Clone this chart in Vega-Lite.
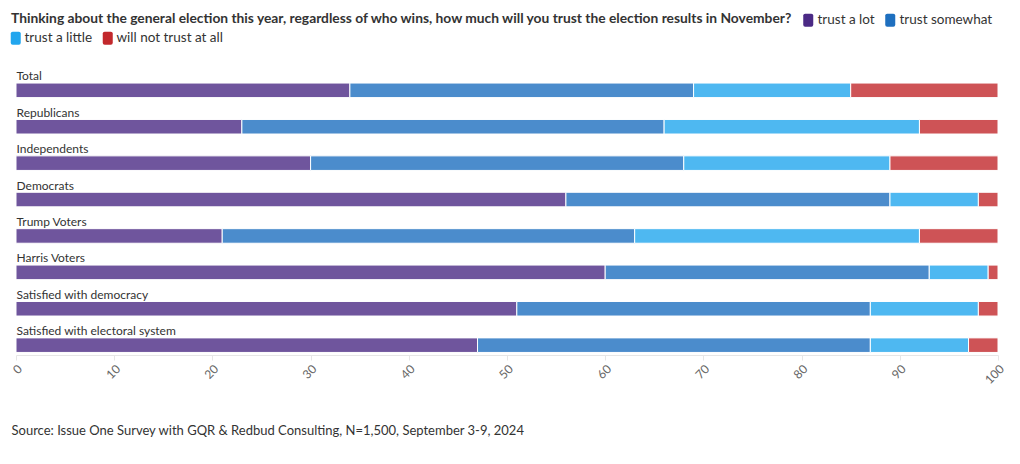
{
  "$schema": "https://vega.github.io/schema/vega-lite/v6.json",
  "width": 982,
  "height": 274.5,
  "autosize": {"type": "none"},
  "padding": {"left": 16, "top": 80.5, "right": 22, "bottom": 109},
  "background": "white",
  "config": {"font": "Lato", "view": {"stroke": null}},
  "title": {
    "text": "Thinking about the general election this year, regardless of who wins, how much will you trust the election results in November?",
    "anchor": "start",
    "frame": "group",
    "dx": -5,
    "dy": 24,
    "fontSize": 13.8,
    "fontWeight": "bold",
    "color": "#333333",
    "font": "Lato",
    "baseline": "alphabetic",
    "offset": 0
  },
  "data": {
    "values": [
      {"group": "Total", "response": "trust a lot", "k": 1, "value": 34},
      {"group": "Total", "response": "trust somewhat", "k": 2, "value": 35},
      {"group": "Total", "response": "trust a little", "k": 3, "value": 16},
      {"group": "Total", "response": "will not trust at all", "k": 4, "value": 15},
      {"group": "Republicans", "response": "trust a lot", "k": 1, "value": 23},
      {"group": "Republicans", "response": "trust somewhat", "k": 2, "value": 43},
      {"group": "Republicans", "response": "trust a little", "k": 3, "value": 26},
      {"group": "Republicans", "response": "will not trust at all", "k": 4, "value": 8},
      {"group": "Independents", "response": "trust a lot", "k": 1, "value": 30},
      {"group": "Independents", "response": "trust somewhat", "k": 2, "value": 38},
      {"group": "Independents", "response": "trust a little", "k": 3, "value": 21},
      {"group": "Independents", "response": "will not trust at all", "k": 4, "value": 11},
      {"group": "Democrats", "response": "trust a lot", "k": 1, "value": 56},
      {"group": "Democrats", "response": "trust somewhat", "k": 2, "value": 33},
      {"group": "Democrats", "response": "trust a little", "k": 3, "value": 9},
      {"group": "Democrats", "response": "will not trust at all", "k": 4, "value": 2},
      {"group": "Trump Voters", "response": "trust a lot", "k": 1, "value": 21},
      {"group": "Trump Voters", "response": "trust somewhat", "k": 2, "value": 42},
      {"group": "Trump Voters", "response": "trust a little", "k": 3, "value": 29},
      {"group": "Trump Voters", "response": "will not trust at all", "k": 4, "value": 8},
      {"group": "Harris Voters", "response": "trust a lot", "k": 1, "value": 60},
      {"group": "Harris Voters", "response": "trust somewhat", "k": 2, "value": 33},
      {"group": "Harris Voters", "response": "trust a little", "k": 3, "value": 6},
      {"group": "Harris Voters", "response": "will not trust at all", "k": 4, "value": 1},
      {"group": "Satisfied with democracy", "response": "trust a lot", "k": 1, "value": 51},
      {"group": "Satisfied with democracy", "response": "trust somewhat", "k": 2, "value": 36},
      {"group": "Satisfied with democracy", "response": "trust a little", "k": 3, "value": 11},
      {"group": "Satisfied with democracy", "response": "will not trust at all", "k": 4, "value": 2},
      {"group": "Satisfied with electoral system", "response": "trust a lot", "k": 1, "value": 47},
      {"group": "Satisfied with electoral system", "response": "trust somewhat", "k": 2, "value": 40},
      {"group": "Satisfied with electoral system", "response": "trust a little", "k": 3, "value": 10},
      {"group": "Satisfied with electoral system", "response": "will not trust at all", "k": 4, "value": 3}
    ]
  },
  "encoding": {
    "y": {
      "field": "group",
      "type": "nominal",
      "sort": null,
      "scale": {"paddingInner": 0.6, "paddingOuter": 0.07},
      "axis": {
        "title": null,
        "domain": false,
        "ticks": false,
        "tickSize": 0,
        "grid": false,
        "labelAlign": "left",
        "labelBaseline": "alphabetic",
        "labelPadding": 0,
        "labelOffset": -10,
        "labelFontSize": 12,
        "labelColor": "#333333",
        "labelFont": "Lato"
      }
    }
  },
  "layer": [
    {
      "mark": {"type": "bar", "fillOpacity": 0.8, "stroke": "white", "strokeWidth": 1},
      "encoding": {
        "x": {
          "field": "value",
          "type": "quantitative",
          "stack": "zero",
          "scale": {"domain": [0, 100], "nice": false},
          "axis": {
            "values": [0, 10, 20, 30, 40, 50, 60, 70, 80, 90, 100],
            "grid": false,
            "labelAngle": -45,
            "labelFontSize": 12,
            "labelColor": "#666666",
            "labelFont": "Lato",
            "labelPadding": 3,
            "domainColor": "#e6e6e6",
            "tickColor": "#e6e6e6",
            "tickSize": 5,
            "title": "Source: Issue One Survey with GQR & Redbud Consulting, N=1,500, September 3-9, 2024",
            "titleAnchor": "start",
            "titleAlign": "left",
            "titleBaseline": "alphabetic",
            "titleX": -5,
            "titleY": 79,
            "titleFontSize": 13,
            "titleFontWeight": "normal",
            "titleColor": "#333333",
            "titleFont": "Lato"
          }
        },
        "color": {
          "field": "response",
          "type": "nominal",
          "scale": {
            "domain": ["trust a lot", "trust somewhat", "trust a little", "will not trust at all"],
            "range": ["#4b2a85", "#1e6fbf", "#22a6ee", "#c2282c"]
          },
          "legend": {
            "orient": "none",
            "legendX": 785.5,
            "legendY": -67.5,
            "direction": "horizontal",
            "title": null,
            "values": ["trust a lot", "trust somewhat"],
            "symbolType": "M-0.47,-1H0.47Q0.77,-1 0.77,-0.7V0.7Q0.77,1 0.47,1H-0.47Q-0.77,1 -0.77,0.7V-0.7Q-0.77,-1 -0.47,-1Z",
            "symbolSize": 169,
            "symbolStrokeWidth": 0,
            "symbolOpacity": 1,
            "labelFontSize": 13.5,
            "labelColor": "#333333",
            "labelFont": "Lato",
            "labelOffset": 2.5,
            "columnPadding": 8,
            "padding": 0
          }
        },
        "order": {"field": "k", "type": "quantitative"}
      }
    },
    {
      "mark": {"type": "point", "filled": true, "size": 0},
      "encoding": {
        "x": {"field": "value", "type": "quantitative"},
        "fill": {
          "field": "response",
          "type": "nominal",
          "scale": {
            "domain": ["trust a little", "will not trust at all"],
            "range": ["#22a6ee", "#c2282c"]
          },
          "legend": {
            "orient": "none",
            "legendX": -7,
            "legendY": -49.5,
            "direction": "horizontal",
            "title": null,
            "symbolType": "M-0.47,-1H0.47Q0.77,-1 0.77,-0.7V0.7Q0.77,1 0.47,1H-0.47Q-0.77,1 -0.77,0.7V-0.7Q-0.77,-1 -0.47,-1Z",
            "symbolSize": 169,
            "symbolStrokeWidth": 0,
            "symbolOpacity": 1,
            "labelFontSize": 13.5,
            "labelColor": "#333333",
            "labelFont": "Lato",
            "labelOffset": 2,
            "columnPadding": 8,
            "padding": 0
          }
        }
      }
    }
  ]
}
